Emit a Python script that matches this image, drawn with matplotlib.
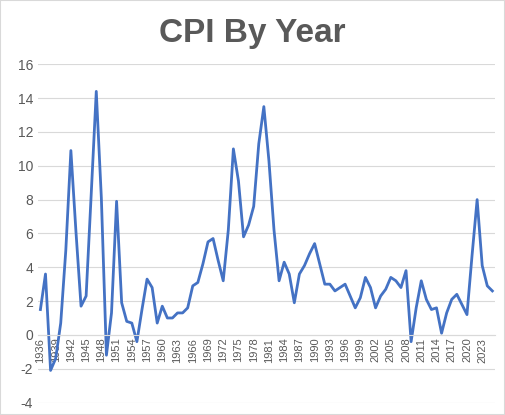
import matplotlib.pyplot as plt
from matplotlib.patches import Rectangle

years = list(range(1936, 2026))
cpi = [1.5, 3.6, -2.1, -1.4, 0.7, 5.0, 10.9, 6.1, 1.7, 2.3, 8.3, 14.4, 8.1, -1.2, 1.3, 7.9, 1.9, 0.8, 0.7, -0.4,
       1.5, 3.3, 2.8, 0.7, 1.7, 1.0, 1.0, 1.3, 1.3, 1.6, 2.9, 3.1, 4.2, 5.5, 5.7, 4.4, 3.2, 6.2, 11.0, 9.1,
       5.8, 6.5, 7.6, 11.3, 13.5, 10.3, 6.2, 3.2, 4.3, 3.6, 1.9, 3.6, 4.1, 4.8, 5.4, 4.2, 3.0, 3.0, 2.6, 2.8,
       3.0, 2.3, 1.6, 2.2, 3.4, 2.8, 1.6, 2.3, 2.7, 3.4, 3.2, 2.8, 3.8, -0.4, 1.6, 3.2, 2.1, 1.5, 1.6, 0.1,
       1.3, 2.1, 2.4, 1.8, 1.2, 4.7, 8.0, 4.1, 2.9, 2.6]
tick_years = list(range(1936, 2024, 3))

plt.rcParams['font.family'] = ['Liberation Sans', 'DejaVu Sans']
plt.rcParams['axes.unicode_minus'] = False
fig = plt.figure(figsize=(5.05, 4.15), dpi=100)
fig.patches.append(Rectangle((0, 0), 1, 1, transform=fig.transFigure, fill=False,
                             edgecolor='#D9D9D9', lw=1.5))
ax = fig.add_axes([0.075, 0.03, 0.905, 0.815])
ax.plot(years, cpi, color='#4472C4', lw=2)
ax.set_ylim(-4, 16)
ax.set_xlim(1935.5, 2025.5)
ax.set_yticks(range(-4, 17, 2))
ax.set_xticks(tick_years)
ax.set_xticklabels([str(y) for y in tick_years])
ax.tick_params(axis='y', labelsize=10, colors='#595959', length=0)
ax.tick_params(axis='x', length=0, pad=2, labelsize=8, labelcolor='#595959', labelrotation=90)
ax.grid(axis='y', color='#D9D9D9', lw=0.8)
ax.set_axisbelow(True)
for s in ['top', 'right', 'left']:
    ax.spines[s].set_visible(False)
ax.spines['bottom'].set_position(('data', 0))
ax.spines['bottom'].set_color('#D9D9D9')
fig.text(0.5, 0.92, 'CPI By Year', ha='center', va='center', fontsize=24, fontweight='bold', color='#595959')
fig.savefig('out.png')
